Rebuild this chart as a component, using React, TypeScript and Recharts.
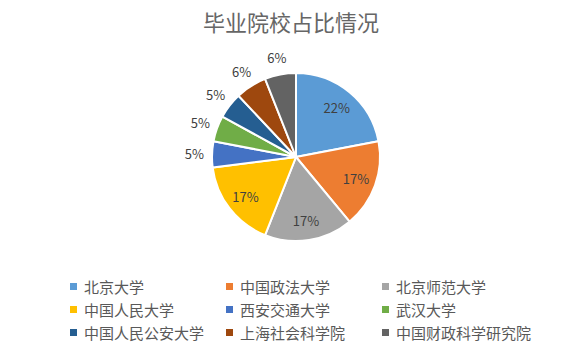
import { PieChart, Pie, Cell } from 'recharts'

const schools = [
  '北京大学',
  '中国政法大学',
  '北京师范大学',
  '中国人民大学',
  '西安交通大学',
  '武汉大学',
  '中国人民公安大学',
  '上海社会科学院',
  '中国财政科学研究院',
]
const shares = [22, 17, 17, 17, 5, 5, 5, 6, 6]
const colors = [
  '#5B9BD5',
  '#ED7D31',
  '#A5A5A5',
  '#FFC000',
  '#4472C4',
  '#70AD47',
  '#255E91',
  '#9E480E',
  '#636363',
]

const data = schools.map((name, i) => ({ name, value: shares[i] }))

const FONT = '"Noto Sans CJK SC", "Noto Sans", sans-serif'
const RAD = Math.PI / 180

interface LabelProps {
  cx: number
  cy: number
  midAngle: number
  outerRadius: number
  value: number
}

function renderLabel({ cx, cy, midAngle, outerRadius, value }: LabelProps) {
  const r = value >= 10 ? outerRadius * 0.76 : outerRadius * 1.21
  const x = cx + r * Math.cos(-midAngle * RAD)
  const y = cy + r * Math.sin(-midAngle * RAD)
  return (
    <text
      x={x}
      y={y}
      fill="#404040"
      fontSize={13}
      fontFamily={FONT}
      textAnchor="middle"
      dominantBaseline="central"
    >
      {value}%
    </text>
  )
}

const legendCols = [70, 226, 382]
const legendRows = [286, 309, 332]

export default function App() {
  return (
    <div
      style={{
        position: 'fixed',
        left: 0,
        top: 0,
        width: 582,
        height: 352,
        background: '#fff',
        fontFamily: FONT,
      }}
    >
      <div
        style={{
          position: 'absolute',
          top: 6,
          left: 0,
          width: 582,
          textAlign: 'center',
          fontSize: 22,
          color: '#666666',
          lineHeight: '30px',
        }}
      >
        毕业院校占比情况
      </div>
      <div style={{ position: 'absolute', left: 0, top: 0 }}>
        <PieChart width={582} height={270} margin={{ top: 0, right: 0, bottom: 0, left: 0 }}>
          <Pie
            data={data}
            dataKey="value"
            cx={296}
            cy={157}
            outerRadius={84}
            startAngle={90}
            endAngle={-270}
            stroke="#fff"
            strokeWidth={2}
            label={renderLabel}
            labelLine={false}
            isAnimationActive={false}
          >
            {data.map((d, i) => (
              <Cell key={d.name} fill={colors[i]} />
            ))}
          </Pie>
        </PieChart>
      </div>
      {data.map((d, i) => (
        <div
          key={d.name}
          style={{
            position: 'absolute',
            left: legendCols[i % 3],
            top: legendRows[Math.floor(i / 3)] - 10,
            height: 20,
            display: 'flex',
            alignItems: 'center',
            fontSize: 15,
            color: '#595959',
            whiteSpace: 'nowrap',
          }}
        >
          <span
            style={{
              display: 'inline-block',
              width: 7,
              height: 7,
              background: colors[i],
              marginRight: 7,
            }}
          />
          {d.name}
        </div>
      ))}
    </div>
  )
}
